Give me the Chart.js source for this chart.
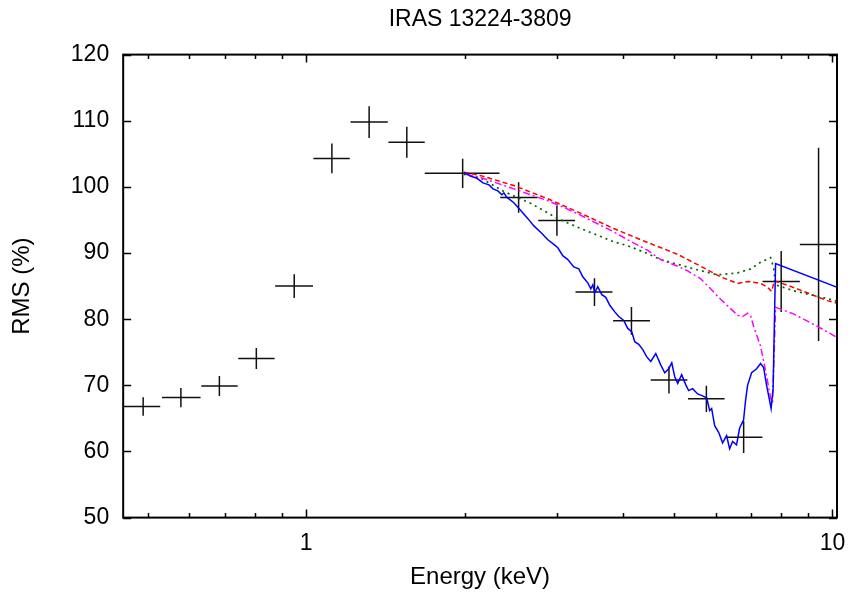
<!DOCTYPE html>
<html>
<head>
<meta charset="utf-8">
<script src="https://cdn.jsdelivr.net/npm/chart.js@4.4.1/dist/chart.umd.min.js"></script>
<style>
  html, body { margin: 0; padding: 0; background: #fff; }
</style>
</head>
<body>
<canvas id="rms-chart" width="851" height="596"></canvas>
<script>
// measured rms spectrum: bin centre, bin edges, rms and its error
const binE   = [0.49, 0.578, 0.684, 0.804, 0.949, 1.119, 1.317, 1.553, 1.983, 2.533, 2.995, 3.53, 4.15, 4.89, 5.76, 6.78, 7.99, 9.41];
const binLo  = [0.449, 0.532, 0.632, 0.743, 0.873, 1.032, 1.214, 1.433, 1.68, 2.337, 2.76, 3.249, 3.83, 4.514, 5.314, 6.27, 7.365, 8.67];
const binHi  = [0.528, 0.630, 0.741, 0.871, 1.030, 1.21, 1.429, 1.68, 2.33, 2.753, 3.243, 3.819, 4.5, 5.30, 6.237, 7.36, 8.67, 10.3];
const rms    = [66.8, 68.15, 69.9, 74.05, 85.0, 104.3, 109.8, 106.75, 102.05, 98.4, 94.9, 84.1, 79.75, 70.8, 67.95, 62.15, 85.7, 91.3];
const rmsErr = [1.4, 1.45, 1.5, 1.6, 1.8, 2.25, 2.4, 2.35, 2.2, 2.3, 2.3, 2.1, 2.1, 2.05, 2.0, 2.4, 4.6, 14.6];

// model curves
const blueE = [1.994,2.056,2.111,2.167,2.225,2.264,2.313,2.354,2.375,2.407,2.481,2.559,2.638,2.708,2.792,2.879,2.955,3.007,3.073,3.141,
  3.225,3.296,3.354,3.428,3.474,3.504,3.535,3.581,3.645,3.709,3.775,3.858,3.926,4.012,4.083,4.155,4.210,4.284,4.361,4.438,
  4.516,4.616,4.717,4.800,4.885,4.950,5.015,5.081,5.169,5.261,5.330,5.424,5.544,5.665,5.767,5.843,5.894,5.972,6.077,6.183,
  6.293,6.376,6.460,6.573,6.660,6.778,6.837,6.897,7.020,7.175,7.302,7.398,7.496,7.595,7.645,7.712,7.796,10.22];
const blueRms = [102.2,101.6,101.3,100.6,100.3,99.7,99.4,98.8,99.1,98.4,97.6,96.4,95.2,94.1,93.1,92.0,91.3,90.8,89.6,89.0,
  87.9,87.6,86.4,85.5,84.6,85.2,84.0,84.9,83.7,83.3,82.1,81.1,80.4,79.8,78.6,78.1,76.6,76.2,75.4,74.3,
  73.6,74.8,73.1,71.9,72.5,73.4,71.3,70.3,71.6,70.1,69.2,69.5,68.7,68.4,68.1,66.2,66.5,63.9,62.9,61.3,
  62.4,60.4,61.5,61.0,63.5,64.8,67.7,70.0,71.9,72.5,73.3,72.7,70.0,67.7,66.5,69.5,88.4,84.8];

const redE   = [1.994,2.148,2.481,2.879,3.325,3.841,4.418,5.081,5.618,6.13,6.604,6.928,7.302,7.53,7.66,7.76,8.43,9.78,10.22];
const redRms = [102.2,101.7,100.2,98.2,96.0,93.7,91.7,89.8,88.0,86.4,85.4,85.7,85.4,84.8,84.2,85.8,84.8,82.8,82.4];

const greenE   = [1.994,2.148,2.375,2.673,3.007,3.325,3.628,3.841,4.083,4.457,4.717,5.081,5.447,6.05,6.604,6.99,7.302,7.628,7.73,7.796,8.43,9.78,10.22];
const greenRms = [101.9,101.3,99.3,97.5,95.2,93.7,92.5,91.7,91.1,89.9,89.0,88.3,87.6,86.7,87.0,87.6,88.6,89.3,87.8,85.2,84.3,83.1,82.7];

const magE   = [2.012,2.148,2.481,2.879,3.087,3.325,3.841,4.083,4.457,4.717,5.081,5.307,5.618,5.868,6.13,6.604,6.75,6.9,6.99,7.083,7.302,7.463,7.628,7.695,7.796,8.43,9.365,10.22];
const magRms = [101.9,101.4,99.7,97.9,96.9,95.7,93.2,92.0,90.4,89.0,88.0,87.3,86.1,84.6,83.0,80.6,80.4,80.9,80.5,78.9,75.9,72.2,68.1,67.4,81.8,80.8,78.9,77.2];

// axis tick positions
const xMajor = [1, 10];
const xMinor = [0.5, 0.6, 0.7, 0.8, 0.9, 2, 3, 4, 5, 6, 7, 8, 9];
const yMajor = [50, 60, 70, 80, 90, 100, 110, 120];

const pairs = (xs, ys) => xs.map((v, i) => ({x: v, y: ys[i]}));

// error crosses, drawn under the model lines
const errorCrosses = {
  id: 'errorCrosses',
  beforeDatasetsDraw(chart) {
    const {ctx, chartArea: a, scales: {x, y}} = chart;
    ctx.save();
    ctx.beginPath();
    ctx.rect(a.left, a.top, a.right - a.left, a.bottom - a.top);
    ctx.clip();
    ctx.strokeStyle = '#111';
    ctx.lineWidth = 1.5;
    ctx.beginPath();
    for (let i = 0; i < binE.length; i++) {
      const yc = y.getPixelForValue(rms[i]);
      const xc = x.getPixelForValue(binE[i]);
      ctx.moveTo(x.getPixelForValue(binLo[i]), yc);
      ctx.lineTo(x.getPixelForValue(binHi[i]), yc);
      ctx.moveTo(xc, y.getPixelForValue(rms[i] - rmsErr[i]));
      ctx.lineTo(xc, y.getPixelForValue(rms[i] + rmsErr[i]));
    }
    ctx.stroke();
    ctx.restore();
  }
};

// box frame with inward ticks on all four sides
const frameTicks = {
  id: 'frameTicks',
  afterDatasetsDraw(chart) {
    const {ctx, chartArea: a, scales: {x, y}} = chart;
    ctx.save();
    ctx.strokeStyle = '#000';
    ctx.lineWidth = 1.5;
    ctx.beginPath();
    const xTick = (v, len) => {
      const px = Math.round(x.getPixelForValue(v)) + 0.5;
      ctx.moveTo(px, a.bottom); ctx.lineTo(px, a.bottom - len);
      ctx.moveTo(px, a.top); ctx.lineTo(px, a.top + len);
    };
    xMajor.forEach(v => xTick(v, 8));
    xMinor.forEach(v => xTick(v, 4.5));
    yMajor.forEach(v => {
      const py = Math.round(y.getPixelForValue(v)) + 0.5;
      ctx.moveTo(a.left, py); ctx.lineTo(a.left + 8, py);
      ctx.moveTo(a.right, py); ctx.lineTo(a.right - 8, py);
    });
    ctx.stroke();
    ctx.lineWidth = 2;
    ctx.strokeRect(a.left, a.top, a.right - a.left, a.bottom - a.top);
    ctx.restore();
  }
};

document.addEventListener("DOMContentLoaded", () => {
  Chart.defaults.font.family = '"Liberation Sans", Arial, Helvetica, sans-serif';
  Chart.defaults.color = '#000';

  const lineSet = (label, data, color, dash, width) => ({
    label: label,
    data: data,
    showLine: true,
    borderColor: color,
    borderWidth: width,
    borderDash: dash,
    pointRadius: 0,
    fill: false,
    tension: 0
  });

  const config = {
    type: 'scatter',
    data: {
      datasets: [
        lineSet('model 1', pairs(blueE, blueRms), '#0000ff', [], 1.5),
        lineSet('model 4', pairs(magE, magRms), '#ff00ff', [7, 3, 2, 3], 1.5),
        lineSet('model 3', pairs(greenE, greenRms), '#006400', [2, 4], 1.7),
        lineSet('model 2', pairs(redE, redRms), '#ff0000', [5, 3], 1.5),
        {
          label: 'data',
          data: pairs(binE, rms),
          pointRadius: 0,
          showLine: false
        }
      ]
    },
    options: {
      responsive: false,
      animation: false,
      layout: { padding: { top: 2, right: 14, bottom: 4, left: 8 } },
      plugins: {
        legend: { display: false },
        tooltip: { enabled: false },
        title: {
          display: true,
          text: 'IRAS 13224-3809',
          fullSize: false,
          font: { size: 23, weight: 'normal' },
          padding: { top: 4, bottom: 21 }
        }
      },
      scales: {
        x: {
          type: 'logarithmic',
          min: 0.449,
          max: 10.2,
          grid: { display: false, drawTicks: false },
          border: { display: false },
          ticks: {
            autoSkip: false,
            maxRotation: 0,
            padding: 12,
            font: { size: 23 },
            callback: (v) => {
              const hit = xMajor.find(m => Math.abs(v - m) < 1e-9);
              return hit !== undefined ? String(hit) : '';
            }
          },
          title: {
            display: true,
            text: 'Energy (keV)',
            font: { size: 24 },
            padding: { top: -6, bottom: 0 }
          }
        },
        y: {
          type: 'linear',
          min: 50,
          max: 120,
          grid: { display: false, drawTicks: false },
          border: { display: false },
          ticks: { stepSize: 10, padding: 14, font: { size: 23 } },
          title: {
            display: true,
            text: 'RMS (%)',
            font: { size: 24 },
            padding: { top: 0, bottom: 20 }
          }
        }
      }
    },
    plugins: [errorCrosses, frameTicks]
  };

  const ctx = document.getElementById("rms-chart").getContext("2d");
  const rmsChart = new Chart(ctx, config);
  console.log(rmsChart.chartArea);
});
</script>
</body>
</html>
